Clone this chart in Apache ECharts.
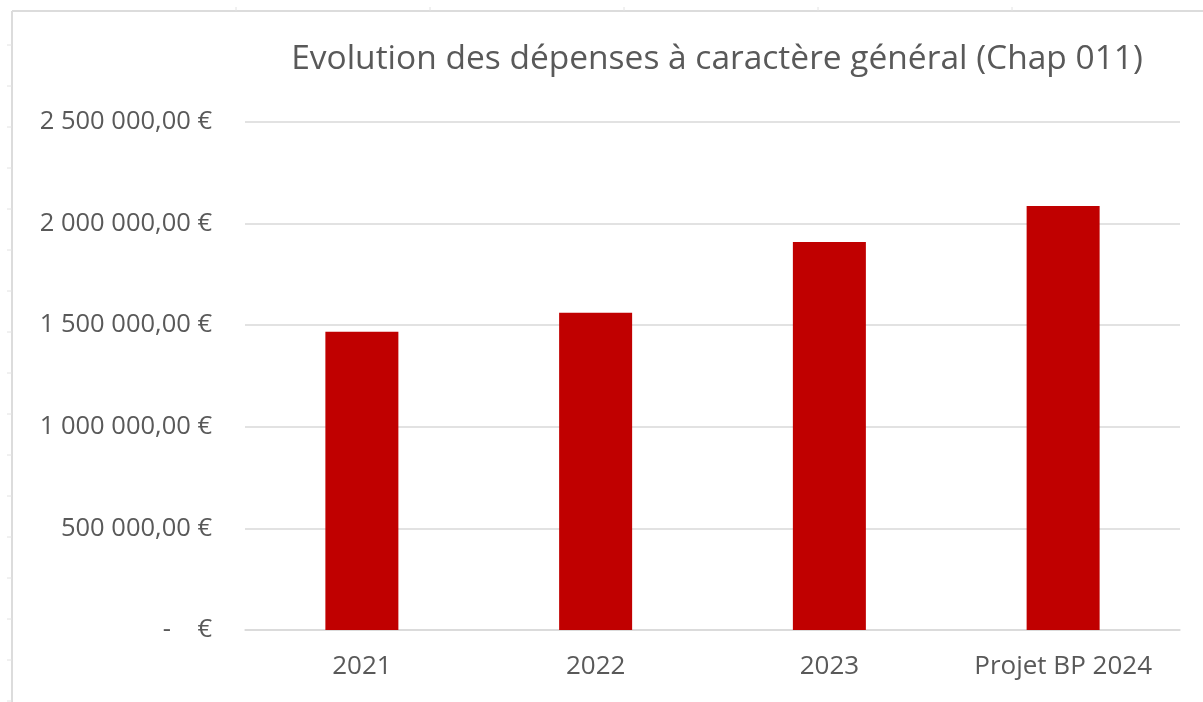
<!DOCTYPE html>
<html>
<head>
<meta charset="utf-8">
<script src="https://cdn.jsdelivr.net/npm/echarts@6/dist/echarts.min.js"></script>
<style>
  html, body { margin: 0; padding: 0; background: #fff; }
  #chart { width: 1203px; height: 702px; }
</style>
</head>
<body>
<div id="chart"></div>
<script>
// values
const years = ['2021', '2022', '2023', 'Projet BP 2024']
const depenses = [1467000, 1560000, 1908000, 2085000]
const titre = 'Evolution des dépenses à caractère général (Chap 011)'

const grey = '#595959'
const fontName = '"Open Sans", "Noto Sans", sans-serif'

// "2 500 000,00 €" style, zero as "-   €"
function euro(v) {
  if (v === 0) return '-    €'
  let s = Math.round(v).toString().replace(/\B(?=(\d{3})+(?!\d))/g, ' ')
  return s + ',00 €'
}

// faint sheet border around the picture
let frame = [
  {type: 'line', shape: {x1: 12, y1: 11, x2: 1203, y2: 11}, style: {stroke: '#dcdcdc', lineWidth: 2}},
  {type: 'line', shape: {x1: 12, y1: 11, x2: 12, y2: 702}, style: {stroke: '#dcdcdc', lineWidth: 2}}
]
for (let x of [236, 430, 624, 818, 1012]) {
  frame.push({type: 'line', shape: {x1: x, y1: 7, x2: x, y2: 11}, style: {stroke: '#e2e2e2', lineWidth: 1}})
}
for (let y = 45; y < 702; y += 41) {
  frame.push({type: 'line', shape: {x1: 7, y1: y, x2: 12, y2: y}, style: {stroke: '#e2e2e2', lineWidth: 1}})
}

let c = echarts.init(document.getElementById('chart'))
c.setOption({
  animation: false,
  textStyle: {fontFamily: fontName},
  title: {
    text: titre,
    left: 712,
    top: 37,
    textAlign: 'center',
    textStyle: {color: grey, fontSize: 33.5, fontWeight: 'normal', fontFamily: fontName}
  },
  graphic: frame,
  grid: {left: 245, right: 23, top: 121.7, bottom: 72},
  xAxis: {
    type: 'category',
    data: years,
    axisLine: {lineStyle: {color: '#d9d9d9', width: 1.5}},
    axisTick: {show: false},
    axisLabel: {color: grey, fontSize: 26, margin: 24, fontFamily: fontName}
  },
  yAxis: {
    type: 'value',
    min: 0,
    max: 2500000,
    interval: 500000,
    axisLine: {show: false},
    axisTick: {show: false},
    splitLine: {lineStyle: {color: '#d9d9d9', width: 1.5}},
    axisLabel: {color: grey, fontSize: 25.5, margin: 33, formatter: euro, fontFamily: fontName}
  },
  series: [{
    type: 'bar',
    data: depenses,
    barWidth: 73,
    itemStyle: {color: '#C00000'}
  }]
})
</script>
</body>
</html>
